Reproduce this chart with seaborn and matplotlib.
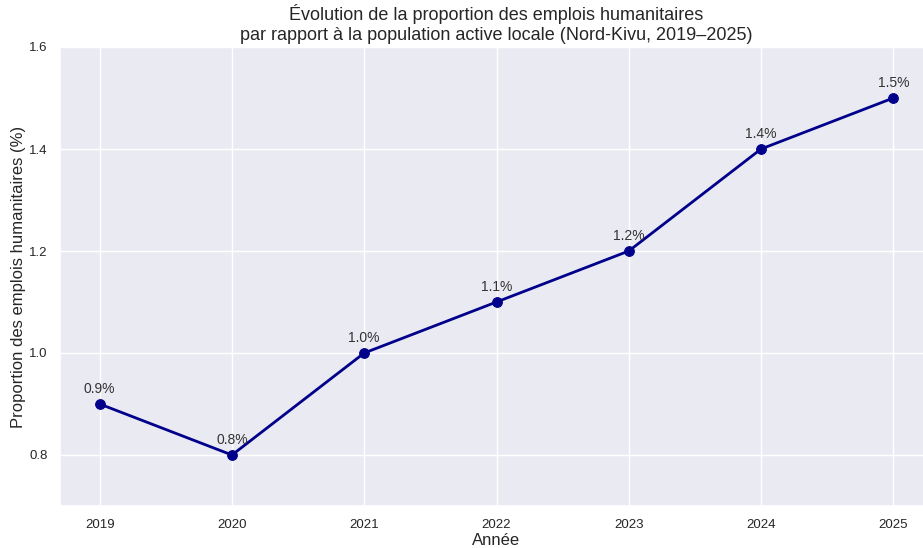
import pandas as pd
import seaborn as sns
import matplotlib
import matplotlib.pyplot as plt

matplotlib.use("Agg")

years = [2019, 2020, 2021, 2022, 2023, 2024, 2025]
proportion = [0.9, 0.8, 1.0, 1.1, 1.2, 1.4, 1.5]

df = pd.DataFrame({"year": years, "proportion": proportion})

sns.set_theme(style="darkgrid")
plt.rcParams["font.family"] = ["Liberation Sans", "DejaVu Sans"]

fig = plt.figure(figsize=(9.23, 5.48), dpi=100)
ax = fig.add_axes([60 / 923, 1 - 506 / 548, (933 - 60) / 923, (506 - 47) / 548])

sns.lineplot(data=df, x="year", y="proportion", ax=ax, color="darkblue",
             marker="o", markersize=7, linewidth=2, markeredgecolor="darkblue")

for x, y in zip(df["year"], df["proportion"]):
  ax.annotate(f"{y:.1f}%", xy=(x, y), xytext=(0, 6), textcoords="offset points",
              ha="center", va="bottom", fontsize=10, color="#333333")

ax.set_xlim(2019 - 0.3, 2025 + 0.3)
ax.set_ylim(0.7, 1.6)
ax.set_xticks(years)
ax.set_yticks([0.8, 1.0, 1.2, 1.4, 1.6])
ax.tick_params(labelsize=9.5, pad=3)
ax.set_xlabel("Année", fontsize=12, labelpad=2)
ax.set_ylabel("Proportion des emplois humanitaires (%)", fontsize=12, labelpad=2)
ax.set_title("Évolution de la proportion des emplois humanitaires\n"
             "par rapport à la population active locale (Nord-Kivu, 2019–2025)",
             fontsize=13, pad=5)

fig.savefig("out.png", dpi=100)
